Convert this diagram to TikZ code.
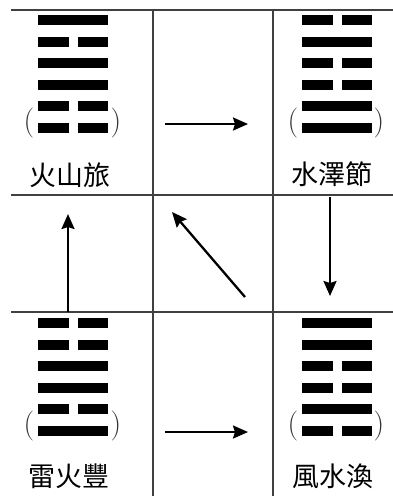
\documentclass[tikz,border=0pt]{standalone}
\usepackage{fontspec}
\newfontfamily\cjk{Noto Sans CJK TC}
\usetikzlibrary{arrows.meta}
\tikzset{
  rule/.style={draw=black!75, line width=1.4pt},
  flow/.style={draw=black, line width=2.3pt, -{Stealth[length=15pt,width=13pt,inset=2pt]}},
  yaolabel/.style={font=\cjk\fontsize{27}{27}\selectfont, inner sep=0pt},
  paren/.style={font=\fontsize{30}{30}\selectfont, inner sep=0pt, text=black!80},
}
% \hexa{left x}{top y}{list of 1 (solid) / 0 (broken), top first}
\newcommand\hexa[3]{%
  \foreach \v [count=\i from 0] in {#3} {%
    \pgfmathsetmacro\yt{#2+21.6*\i}%
    \ifnum\v=1
      \fill[black] (#1,\yt) rectangle ++(70,10);
    \else
      \fill[black] (#1,\yt) rectangle ++(30.5,10);
      \fill[black] (#1+39.5,\yt) rectangle ++(30.5,10);
    \fi
  }%
}
\begin{document}
\begin{tikzpicture}[x=1pt,y=-1pt]
\useasboundingbox (0,0) rectangle (393,496);
\fill[white] (0,0) rectangle (393,496);
% grid
\draw[rule] (11,10) -- (393,10);
\draw[rule] (11,195) -- (393,195);
\draw[rule] (11,312) -- (393,312);
\draw[rule] (153,10) -- (153,496);
\draw[rule] (273,10) -- (273,496);
% hexagrams
\hexa{38}{15}{1,0,1,1,0,0}
\hexa{302}{15}{0,1,0,0,1,1}
\hexa{38}{318}{0,0,1,1,0,1}
\hexa{302}{318}{1,1,0,0,1,0}
% parentheses
\node[paren] (pa1) at (29,123) {(};
\node[paren] (pb1) at (116,123) {)};
\node[paren] (pa2) at (293,123) {(};
\node[paren] (pb2) at (379,123) {)};
\node[paren] (pa3) at (29,426) {(};
\node[paren] (pb3) at (116,426) {)};
\node[paren] (pa4) at (293,426) {(};
\node[paren] (pb4) at (379,426) {)};
% labels
\node[yaolabel] (lu) at (70.5,175) {火山旅};
\node[yaolabel] (jie) at (332,174) {水澤節};
\node[yaolabel] (feng) at (69,476) {雷火豐};
\node[yaolabel] (huan) at (333,476) {風水渙};
% arrow coordinates
\coordinate (t1) at (165,124);
\coordinate (t2) at (248,124);
\coordinate (r1) at (330,197);
\coordinate (r2) at (330,296);
\coordinate (d1) at (245,297);
\coordinate (d2) at (172,212);
\coordinate (l1) at (68,312);
\coordinate (l2) at (68,214);
\coordinate (b1) at (165,432);
\coordinate (b2) at (248,432);
\draw[flow] (t1) -- (t2);
\draw[flow] (r1) -- (r2);
\draw[flow] (d1) -- (d2);
\draw[flow] (l1) -- (l2);
\draw[flow] (b1) -- (b2);
\end{tikzpicture}
\end{document}
